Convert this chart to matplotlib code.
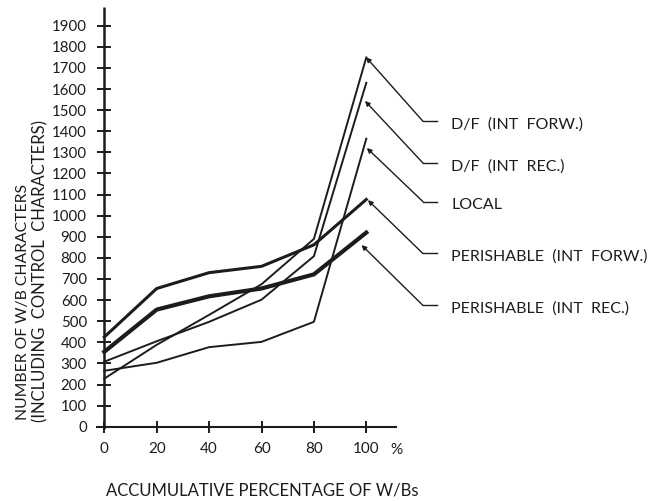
import matplotlib
matplotlib.use("Agg")
import matplotlib.pyplot as plt

# ---- data ----
x_pct = [0, 20, 40, 60, 80, 100]
df_int_forw = [228, 388, 530, 675, 890, 1750]
df_int_rec = [308, 405, 497, 602, 808, 1630]
local = [265, 303, 377, 402, 497, 1365]
per_int_forw = [425, 655, 730, 760, 862, 1077]
per_int_rec = [355, 555, 618, 655, 722, 920]

series_labels = ["D/F  (INT  FORW.)", "D/F  (INT  REC.)", "LOCAL",
                 "PERISHABLE  (INT  FORW.)", "PERISHABLE  (INT  REC.)"]
label_y = [1433, 1235, 1052, 806, 560]
arrow_targets = [(99.9, 1751), (99.5, 1544), (100.2, 1321), (100.6, 1074), (98.2, 861)]

y_ticks = list(range(0, 2000, 100))
x_ticks = [0, 20, 40, 60, 80, 100]

plt.rcParams['font.family'] = ['Lato', 'DejaVu Sans']
ink = '#1c1c1c'

fig = plt.figure(figsize=(6.53, 5.01), dpi=100)
W, H = 653, 501
left_px, bottom_px = 104.3, 426.7
xmax = 111.6
ymax = 1990
ax = fig.add_axes([left_px / W, (H - bottom_px) / H,
                   (xmax * 2.62) / W, (ymax * 0.211) / H])
ax.set_xlim(0, xmax)
ax.set_ylim(0, ymax)

for s in ax.spines.values():
    s.set_visible(False)
ax.plot([-3, xmax], [0, 0], color=ink, lw=1.5, clip_on=False, solid_capstyle='butt')
ax.plot([0, 0], [-12, ymax], color=ink, lw=1.8, clip_on=False, solid_capstyle='butt')

ax.set_xticks(x_ticks)
ax.set_xticklabels([str(v) for v in x_ticks])
ax.set_yticks(y_ticks)
ax.set_yticklabels([str(v) for v in y_ticks])
ax.tick_params(axis='y', direction='inout', length=10, width=1.4, color=ink,
               labelsize=10.8, pad=7.5, labelcolor=ink)
ax.tick_params(axis='x', direction='inout', length=9, width=1.4, color=ink,
               labelsize=11, pad=6.5, labelcolor=ink)

ax.text(111.5, -75, "%", fontsize=11, color=ink, ha='center', va='top',
        clip_on=False)

ax.plot(x_pct, df_int_forw, color=ink, lw=1.4, clip_on=False)
ax.plot(x_pct, df_int_rec, color=ink, lw=1.4, clip_on=False)
ax.plot(x_pct, local, color=ink, lw=1.4, clip_on=False)
ax.plot(x_pct, per_int_forw, color=ink, lw=2.2, clip_on=False)
ax.plot(x_pct, per_int_rec, color=ink, lw=3.0, clip_on=False)

for lab, ly, tgt in zip(series_labels, label_y, arrow_targets):
    ax.plot([121.6, 127], [ly + 15, ly + 15], color=ink, lw=1.0, clip_on=False)
    ax.annotate('', xy=tgt, xytext=(121.6, ly + 15), annotation_clip=False,
                arrowprops=dict(arrowstyle='-|>', color=ink, lw=1.0,
                                mutation_scale=7, shrinkA=0, shrinkB=0))
    ax.text(132.5, ly, lab, fontsize=11.5, color=ink, va='center', ha='left',
            clip_on=False)

fig.text(262.5 / W, 1 - 490 / H, "ACCUMULATIVE PERCENTAGE OF W/Bs",
         fontsize=12, color=ink, ha='center', va='center')
fig.text(23 / W, 1 - 420 / H, "NUMBER OF W/B CHARACTERS",
         fontsize=11.3, color=ink, ha='left', va='center', rotation=90,
         rotation_mode='anchor')
fig.text(40 / W, 1 - 422 / H, "(INCLUDING  CONTROL  CHARACTERS)",
         fontsize=12, color=ink, ha='left', va='center', rotation=90,
         rotation_mode='anchor')

fig.savefig("out.png", dpi=100, facecolor='white')
